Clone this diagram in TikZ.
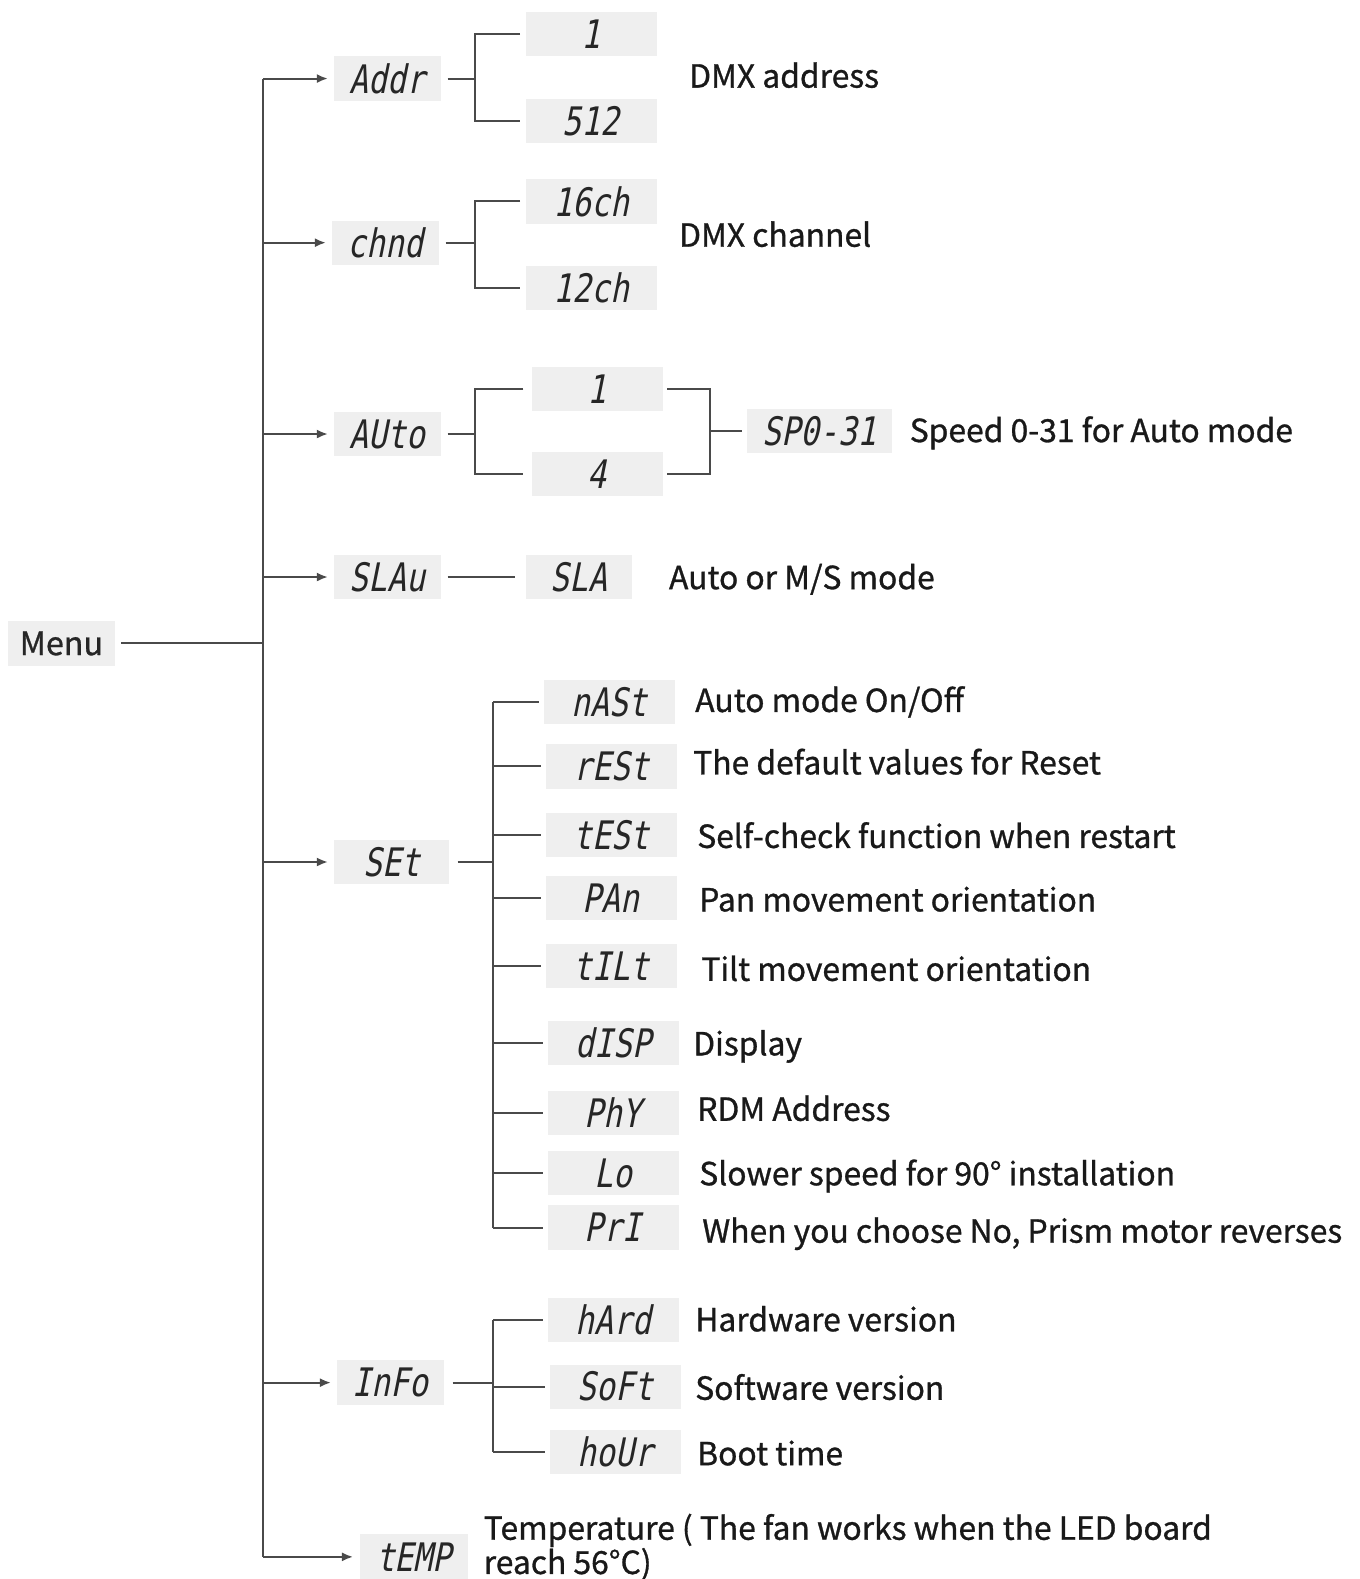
\documentclass[tikz,border=0pt]{standalone}
\usepackage{fontspec}
\setmainfont{Noto Sans CJK SC}[FakeBold=0.9]
\newfontfamily\seg{DejaVu Sans Mono}[FakeSlant=0.2,FakeStretch=0.8]
\usetikzlibrary{calc,arrows.meta}
\definecolor{boxgray}{HTML}{EFEFEF}
\definecolor{linegray}{HTML}{4A4A4A}
\tikzset{
  ln/.style={draw=linegray,line width=1pt},
  arr/.style={ln,-{Latex[length=5.5pt,width=4.5pt]},shorten >=3pt},
  segbox/.style={fill=boxgray,inner sep=0pt,minimum height=22pt,font=\seg\fontsize{19.5}{19.5}\selectfont,text=black!85},
  wbox/.style={segbox,minimum width=65pt},
  nbox/.style={segbox,minimum width=53pt},
  lbl/.style={inner sep=0pt,anchor=base west,font=\fontsize{15.8}{17}\selectfont,text=black!90}
}
\begin{document}
\begin{tikzpicture}[x=0.5pt,y=-0.5pt]
\useasboundingbox (0,0) rectangle (1350,1568);
% level-1 boxes
\node[segbox,minimum width=53pt,font=\fontsize{16}{16}\selectfont] (menu) at (61,639) {Menu};
\node[nbox] (addr) at (385,78) {Addr};
\node[nbox] (chnd) at (383,241) {chnd};
\node[nbox] (auto) at (385,431) {AUto};
\node[nbox] (slav) at (385,573) {SLAu};
\node[segbox,minimum width=57pt] (set) at (389,856) {SEt};
\node[nbox] (info) at (388,1373) {InFo};
\node[segbox,minimum width=54pt,minimum height=23pt] (temp) at (411,1546) {tEMP};
% trunk
\coordinate (ttop) at (261,78);
\coordinate (tbot) at (261,1546);
\draw[ln] (ttop) -- (tbot);
\draw[ln,shorten <=3pt] (menu.east) -- (menu.east -| ttop);
\foreach \n in {addr,chnd,auto,slav,set,info,temp}{
  \draw[arr] (\n.west -| ttop) -- (\n.west);
}
% Addr
\node[wbox] (a1) at (587,34) {1};
\node[wbox] (a512) at (587,120) {512};
\coordinate (aJ) at (472,78);
\draw[ln,shorten <=3pt] (addr.east) -- (aJ);
\draw[ln] ($(a1.west)+(-5,0)$) -| (aJ) |- ($(a512.west)+(-5,0)$);
\node[lbl] (lA) at (684,87) {DMX address};
% chnd
\node[wbox] (c16) at (587,200) {16ch};
\node[wbox] (c12) at (587,286) {12ch};
\coordinate (cJ) at (472,241);
\draw[ln,shorten <=3pt] (chnd.east) -- (cJ);
\draw[ln] ($(c16.west)+(-5,0)$) -| (cJ) |- ($(c12.west)+(-5,0)$);
\node[lbl] (lC) at (674,245) {DMX channel};
% Auto
\node[wbox] (u1) at (593,386) {1};
\node[wbox] (u4) at (593,471) {4};
\node[segbox,minimum width=72pt] (sp) at (814,428) {SP0-31};
\coordinate (uJ) at (472,431);
\coordinate (uK) at (705,428);
\draw[ln,shorten <=3pt] (auto.east) -- (uJ);
\draw[ln] ($(u1.west)+(-8,0)$) -| (uJ) |- ($(u4.west)+(-8,0)$);
\draw[ln] ($(u1.east)+(4,0)$) -| (uK) |- ($(u4.east)+(4,0)$);
\draw[ln,shorten >=2.5pt] (uK) -- (sp.west);
\node[lbl] (lU) at (903,439) {Speed 0-31 for Auto mode};
% SLAu
\node[nbox] (sla) at (575,573) {SLA};
\draw[ln,shorten <=3pt,shorten >=5pt] (slav.east) -- (sla.west);
\node[lbl] (lS) at (664,585) {Auto or M/S mode};
% SEt
\coordinate (sV) at (490,856);
\draw[ln,shorten <=4pt] (set.east) -- (sV);
\node[wbox] (mast) at (605,697) {nASt};
\node[wbox] (rest) at (607,761) {rESt};
\node[wbox] (test) at (607,829) {tESt};
\node[wbox] (pan) at (607,892) {PAn};
\node[wbox] (tilt) at (607,959) {tILt};
\node[wbox] (disp) at (609,1036) {dISP};
\node[wbox] (phy) at (609,1105) {PhY};
\node[wbox] (lo) at (609,1165) {Lo};
\node[wbox] (pri) at (609,1219) {PrI};
\draw[ln] (mast.west -| sV) -- (pri.west -| sV);
\foreach \n in {mast,rest,test,pan,tilt,disp,phy,lo,pri}{
  \draw[ln,shorten >=2pt] (\n.west -| sV) -- (\n.west);
}
\node[lbl] (l1) at (690,707) {Auto mode On/Off};
\node[lbl] (l2) at (688,769) {The default values for Reset};
\node[lbl] (l3) at (692,842) {Self-check function when restart};
\node[lbl] (l4) at (694,905) {Pan movement orientation};
\node[lbl] (l5) at (696,974) {Tilt movement orientation};
\node[lbl] (l6) at (688,1048) {Display};
\node[lbl] (l7) at (692,1113) {RDM Address};
\node[lbl] (l8) at (694,1177) {Slower speed for 90° installation};
\node[lbl] (l9) at (697,1234) {When you choose No, Prism motor reverses};
% Info
\coordinate (iV) at (490,1373);
\draw[ln,shorten <=4pt] (info.east) -- (iV);
\node[wbox] (hard) at (609,1311) {hArd};
\node[wbox] (soft) at (611,1377) {SoFt};
\node[wbox] (hour) at (611,1442) {hoUr};
\draw[ln] (hard.west -| iV) -- (hour.west -| iV);
\foreach \n in {hard,soft,hour}{
  \draw[ln,shorten >=2pt] (\n.west -| iV) -- (\n.west);
}
\node[lbl] (i1) at (690,1322) {Hardware version};
\node[lbl] (i2) at (690,1390) {Software version};
\node[lbl] (i3) at (692,1455) {Boot time};
% temp
\node[lbl,align=left] (tl) at (480,1563) {Temperature ( The fan works when the LED board\\reach 56°C)};
\end{tikzpicture}
\end{document}
